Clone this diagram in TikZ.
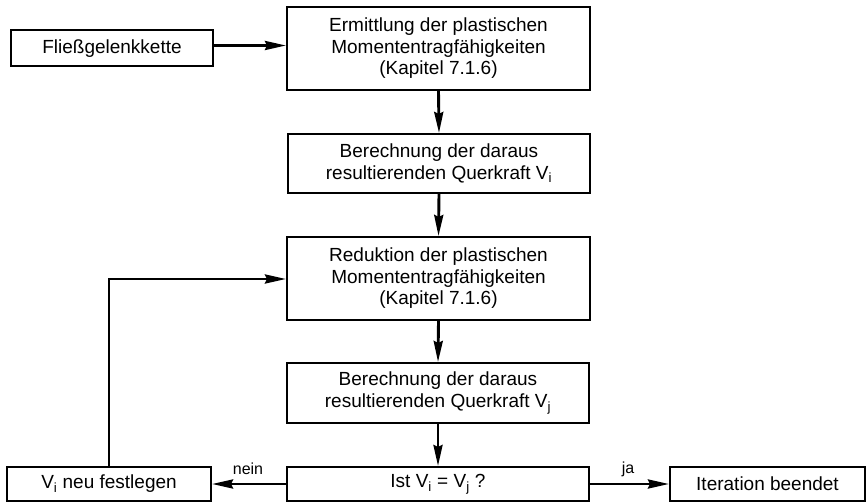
\documentclass[tikz,border=0pt]{standalone}
\usepackage{fontspec}
\setmainfont{Liberation Sans}
\usetikzlibrary{arrows.meta}
\newcommand{\boxfont}{\fontsize{19}{21.5}\selectfont}
\newcommand{\labfont}{\fontsize{16}{18}\selectfont}
\begin{document}
\begin{tikzpicture}[x=1pt,y=-1pt,
  stepbox/.style={draw, line width=2pt, align=center, inner sep=0pt, font=\boxfont},
  flow/.style={line width=2.9pt, -{Stealth[length=21pt,width=9pt,inset=2pt]}},
  lab/.style={font=\labfont, inner sep=0pt}]
\useasboundingbox (0,0) rectangle (867,502);

% boxes
\node[stepbox, minimum width=202pt, minimum height=36pt] (fk) at (112,48.5) {Fließgelenkkette};
\node[stepbox, minimum width=303pt, minimum height=83pt] (b1) at (438.5,48.5)
  {Ermittlung der plastischen\\Momententragfähigkeiten\\(Kapitel 7.1.6)};
\node[stepbox, minimum width=302pt, minimum height=59pt] (b2) at (439,163.5)
  {Berechnung der daraus\\resultierenden Querkraft V\textsubscript{i}};
\node[stepbox, minimum width=303pt, minimum height=83pt] (b3) at (438.5,278.5)
  {Reduktion der plastischen\\Momententragfähigkeiten\\(Kapitel 7.1.6)};
\node[stepbox, minimum width=302pt, minimum height=60pt] (b4) at (438,393)
  {Berechnung der daraus\\resultierenden Querkraft V\textsubscript{j}};
\node[stepbox, minimum width=302pt, minimum height=34pt] (b5) at (438,484)
  {Ist V\textsubscript{i} = V\textsubscript{j} ?};
\node[stepbox, minimum width=204pt, minimum height=34pt] (nl) at (109,484)
  {V\textsubscript{i} neu festlegen};
\node[stepbox, minimum width=195pt, minimum height=34pt] (ib) at (767.5,484)
  {Iteration beendet};

% connectors
\draw[flow] ([yshift=3pt]fk.east) -- ([yshift=3pt]fk.east -| b1.west);
\draw[flow] (b1.south) -- (b2.north);
\draw[flow] (b2.south) -- (b3.north);
\draw[flow] (b3.south) -- (b4.north);
\draw[flow] (b4.south) -- (b5.north);
\draw[flow] (b5.west) -- (nl.east);
\draw[flow] (b5.east) -- (ib.west);
\coordinate (turn) at (109,279);
\draw[flow] (nl.north) -- (turn) -- (turn -| b3.west);

% branch labels
\node[lab] (nein) at (248,469) {nein};
\node[lab] (ja) at (628,469) {ja};
\end{tikzpicture}
\end{document}
